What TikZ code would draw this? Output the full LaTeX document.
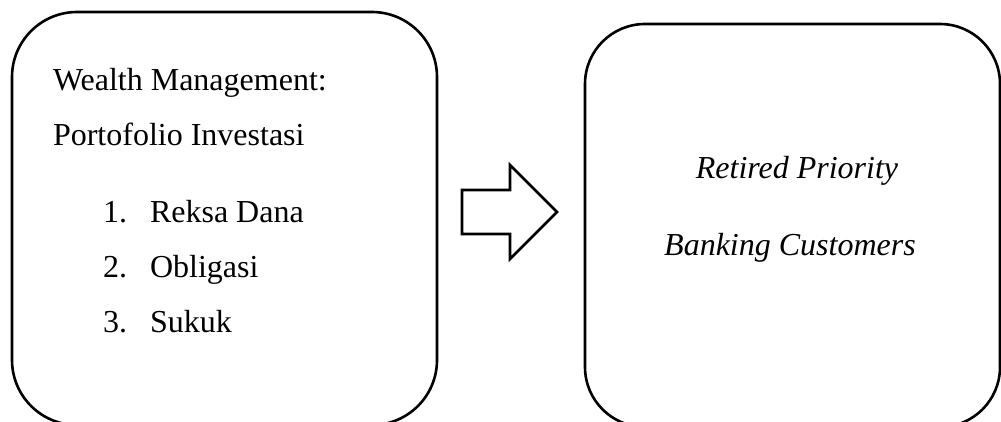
\documentclass[tikz,border=0pt]{standalone}
\usepackage{fontspec}
\setmainfont{Liberation Serif}
\begin{document}
\begin{tikzpicture}[x=1pt,y=-1pt,
  panel/.style={draw=black,line width=2.6pt,inner sep=0pt,outer sep=0pt},
  label/.style={inner sep=0pt,outer sep=0pt,font=\fontsize{32}{37}\selectfont},
  blockarrow/.style={draw=black,line width=2.6pt,miter limit=10}]
  \useasboundingbox (0,0) rectangle (1001,421);
  \clip (0,0) rectangle (1001,421);

  % two rounded panels, running past the lower edge
  \node[panel,rounded corners=65pt,minimum width=425pt,minimum height=413pt]
    (left) at (224.5,218.5) {};
  \node[panel,rounded corners=60pt,minimum width=415pt,minimum height=403pt]
    (right) at (792.5,225.5) {};

  % contents of the left panel
  \node[label,anchor=base west] (wm) at (53,90) {Wealth Management:};
  \node[label,anchor=base west] (pi) at (53,145) {Portofolio Investasi};
  \node[label,anchor=base west] (n1) at (103,222) {1.};
  \node[label,anchor=base west] (i1) at (150,222) {Reksa Dana};
  \node[label,anchor=base west] (n2) at (103,277) {2.};
  \node[label,anchor=base west] (i2) at (150,277) {Obligasi};
  \node[label,anchor=base west] (n3) at (103,332) {3.};
  \node[label,anchor=base west] (i3) at (150,332) {Sukuk};

  % contents of the right panel
  \node[label,anchor=base] (rp) at (797,178) {\itshape Retired Priority};
  \node[label,anchor=base] (bc) at (790,255) {\itshape Banking Customers};

  % hollow block arrow between the panels
  \draw[blockarrow] (462,190) -- (510,190) -- (510,165) -- (557,212)
    -- (510,259) -- (510,234) -- (462,234) -- cycle;
\end{tikzpicture}
\end{document}
